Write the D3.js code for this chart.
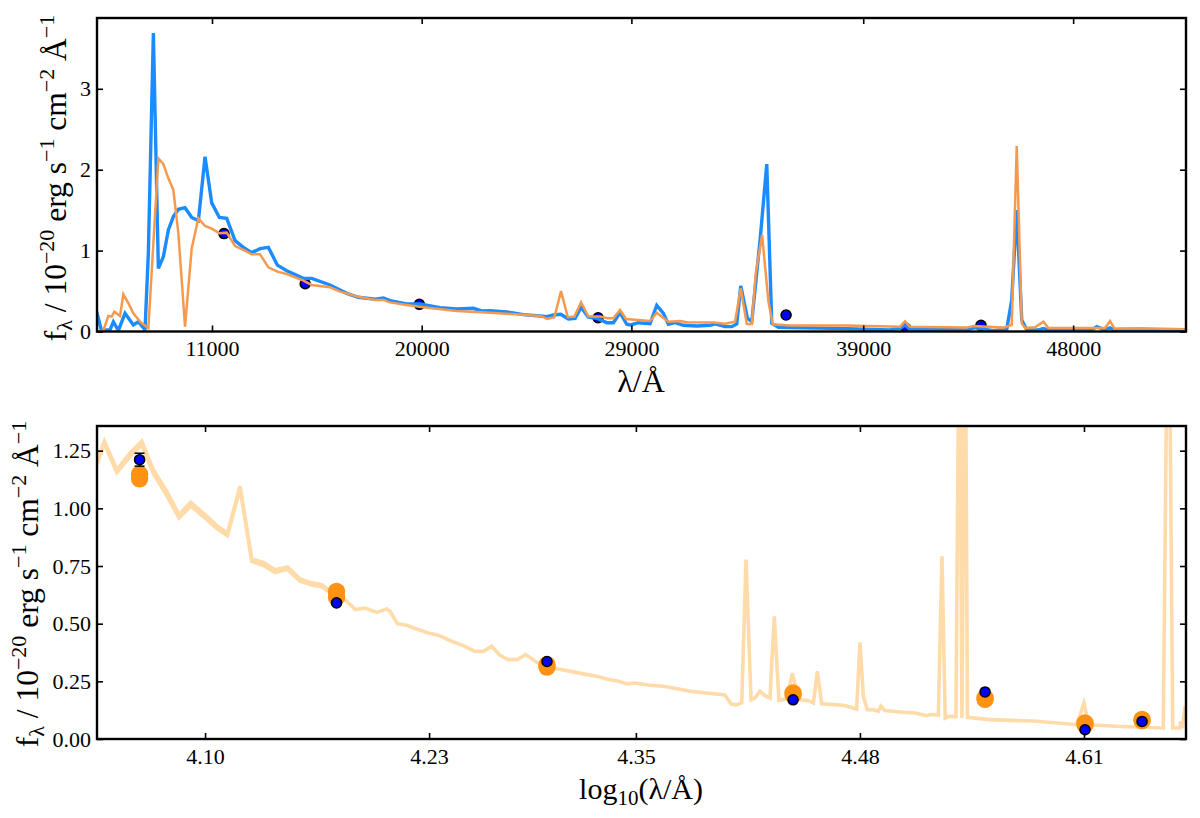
<!DOCTYPE html>
<html>
<head>
<meta charset="utf-8">
<script src="https://cdn.jsdelivr.net/npm/d3@7"></script>
<style>
  html, body { margin: 0; padding: 0; background: #fff; }
  text { font-family: "Liberation Serif", serif; fill: #000; }
</style>
</head>
<body>
<svg id="chart" width="1200" height="818"></svg>
<script>
// top panel, blue model: wavelength (A) and flux
var blueWave = [6050,6265,6480,6623,6766,6980,7267,7624,7839,8125,8268,8483,8698,8912,9127,9342,9556,9842,10129,10415,10701,10987,11316,11631,11989,12347,12704,13062,13420,13806,14207,14922,15280,16067,16783,17283,18000,18357,18643,19355,19928,20787,21502,22218,22575,22933,23792,24364,25080,25366,25652,25967,26296,26582,26840,27154,27512,27942,28228,28514,28800,28972,29301,29802,30088,30374,30589,30875,31233,31805,32378,32592,33022,33308,33522,33694,33980,34166,34524,34810,35025,35311,35808,38241,40101,40530,40745,40960,43392,43750,44537,45110,45324,45539,45754,45968,46469,46684,46898,48759,48973,49188,49331,49546,49760,52837];
var blueFlux = [0.245,0,0.02,0.02,0.12,0.01,0.225,0.08,0.12,0.02,0.97,3.69,0.78,0.925,1.255,1.42,1.51,1.53,1.41,1.37,2.16,1.59,1.41,1.40,1.123,1.04,0.975,1.024,1.04,0.82,0.75,0.657,0.657,0.575,0.472,0.423,0.398,0.414,0.381,0.34,0.34,0.295,0.279,0.287,0.254,0.258,0.237,0.209,0.192,0.184,0.204,0.213,0.155,0.163,0.299,0.176,0.163,0.109,0.109,0.233,0.089,0.081,0.109,0.097,0.324,0.225,0.089,0.109,0.077,0.068,0.077,0.093,0.06,0.06,0.093,0.563,0.163,0.122,1.131,2.07,0.101,0.052,0.048,0.036,0.02,0.04,0.08,0.027,0.02,0.048,0.011,0.027,0.39,1.5,0.143,0.02,0.02,0.036,0.02,0.02,0.06,0.036,0.02,0.044,0.011,0.011];

// top panel, orange model
var orangeWave = [6122,6336,6551,6694,6809,7052,7195,7410,7624,7911,8268,8483,8698,8912,9127,9342,9556,9842,10129,10415,10701,10987,11316,11631,11989,12347,12704,13062,13420,13806,14207,14922,15280,16067,16497,17283,18000,18357,18643,19355,20071,21502,22933,25080,25394,25695,25981,26268,26554,26840,27154,27655,27970,28228,28514,28771,29802,30088,30589,31090,31376,32521,33022,33451,33694,33952,34166,34337,34610,34882,35068,35808,38241,40530,40745,40960,43392,43679,44966,45324,45539,45754,45897,46326,46684,46898,48687,49331,49546,49732,50834,52837];
var orangeFlux = [0,0.01,0.192,0.184,0.245,0.192,0.46,0.35,0.225,0.122,0.04,1.09,2.14,2.07,1.893,1.749,1.214,0.06,1.028,1.399,1.304,1.271,1.214,1.222,1.057,1.008,0.954,0.954,0.793,0.74,0.711,0.629,0.575,0.546,0.493,0.43,0.39,0.39,0.36,0.328,0.299,0.254,0.233,0.192,0.155,0.176,0.501,0.176,0.184,0.361,0.184,0.184,0.163,0.163,0.266,0.155,0.13,0.233,0.122,0.13,0.114,0.11,0.097,0.122,0.534,0.093,0.093,0.719,1.193,0.369,0.089,0.073,0.073,0.06,0.126,0.06,0.048,0.069,0.048,0.081,2.293,0.102,0.044,0.052,0.122,0.044,0.044,0.044,0.13,0.036,0.04,0.027];

// bottom panel, model spectrum in log wavelength
var specLog = [4.0372,4.0416,4.0488,4.0565,4.0633,4.07,4.0778,4.0849,4.0917,4.1,4.1068,4.113,4.1203,4.1271,4.1339,4.1406,4.1478,4.1551,4.1619,4.1677,4.1755,4.1822,4.1871,4.1929,4.1996,4.2054,4.2073,4.2116,4.217,4.2228,4.2295,4.2353,4.2421,4.2508,4.2566,4.2615,4.2663,4.2711,4.276,4.2812,4.286,4.2924,4.2982,4.304,4.3137,4.3291,4.334,4.3388,4.345,4.3495,4.3582,4.366,4.3717,4.3814,4.4017,4.4052,4.4079,4.4114,4.4139,4.4168,4.4191,4.422,4.4249,4.4278,4.4303,4.433,4.4375,4.4408,4.4443,4.4501,4.453,4.4553,4.4578,4.4665,4.4713,4.4781,4.48,4.482,4.4843,4.4878,4.4907,4.4922,4.4945,4.5052,4.5119,4.519,4.521,4.5255,4.5276,4.5295,4.5313,4.5357,4.5377,4.5392,4.541,4.5424,4.5555,4.5826,4.6058,4.61,4.6126,4.629,4.656,4.659,4.6615,4.6657,4.6661,4.667,4.6687,4.6692];
var specFlux = [1.204,1.291,1.168,1.24,1.291,1.168,1.074,0.973,1.026,0.973,0.925,0.893,1.096,0.781,0.766,0.734,0.746,0.694,0.677,0.669,0.626,0.597,0.561,0.568,0.549,0.564,0.554,0.5,0.493,0.477,0.46,0.45,0.427,0.402,0.38,0.38,0.402,0.363,0.344,0.344,0.366,0.333,0.312,0.305,0.291,0.269,0.258,0.253,0.239,0.243,0.233,0.229,0.221,0.207,0.191,0.152,0.148,0.156,0.778,0.171,0.178,0.207,0.188,0.178,0.532,0.168,0.174,0.286,0.171,0.166,0.156,0.294,0.153,0.148,0.145,0.13,0.419,0.185,0.127,0.127,0.12,0.142,0.123,0.116,0.113,0.101,0.106,0.104,0.792,0.091,0.098,0.098,2.0,0.091,2.07,0.094,0.084,0.077,0.062,0.156,0.062,0.055,0.048,2.3,0.048,0.048,0.077,0.048,0.142,0.1];

// second model draw of the spectrum, only differs visibly at the blue end
var specLog2 = [4.0372,4.0416,4.0488,4.0565,4.0633,4.07,4.0778,4.0849,4.0917,4.1,4.1068,4.113,4.1203,4.1271,4.1339,4.1406,4.1478,4.1551,4.1619,4.1677,4.1755];
var specFlux2 = [1.19,1.28,1.155,1.225,1.275,1.15,1.055,0.958,1.01,0.958,0.912,0.882,1.086,0.77,0.752,0.722,0.736,0.684,0.668,0.66,0.618];

// photometry
var photWave = [11515,15000,19900,27570,35640,40785,44005];
var photLog = [4.062,4.1763,4.2984,4.4412,4.5526,4.6106,4.6437];
var photFlux = [1.211,0.59,0.336,0.17,0.204,0.04,0.076];
var photErr = [0.028,0.008,0.008,0.008,0.008,0.008,0.008];
var modelPhotHigh = [1.148,0.64,0.322,0.2,0.178,0.07,0.085];
var modelPhotLow = [1.128,0.615,0.312,0.192,0.172,0.062,0.08];

// the printed labels are rounded tick positions
var topXTicks = [11000,20000,29000,38950,47960];
var topYTicks = [0,1,2,3];
var bottomXTicks = [4.10,4.23,4.35,4.48,4.61];
var bottomYTicks = [0,0.25,0.5,0.75,1,1.25];

var blueLine = "#1a8cff";
var orangeLine = "#f5994f";
var paleLine = "#ffdba9";
var orangeDot = "#ff9213";

var svg = d3.select("#chart");
var left = 97, right = 1186;

var topX = d3.scaleLinear().domain([6064,52804]).range([left,right]);
var topY = d3.scaleLinear().domain([0,3.875]).range([331.5,18]);
var botX = d3.scaleLinear().domain([4.0373,4.6692]).range([left,right]);
var botY = d3.scaleLinear().domain([0,1.357]).range([739,426]);

function zip(a, b) {
    return a.map(function(v, i) { return [v, b[i]]; });
}

function drawAxes(g, x, y, xTicks, yTicks, xFormat, yFormat) {
    var x0 = x.range()[0], x1 = x.range()[1], y0 = y.range()[0], y1 = y.range()[1];
    var bottom = g.append("g").attr("transform", "translate(0," + y0 + ")")
        .call(d3.axisBottom(x).tickValues(xTicks).tickFormat(xFormat).tickSizeInner(-6).tickSizeOuter(0).tickPadding(9));
    var top = g.append("g").attr("transform", "translate(0," + y1 + ")")
        .call(d3.axisTop(x).tickValues(xTicks).tickFormat("").tickSizeInner(-6).tickSizeOuter(0));
    var lft = g.append("g").attr("transform", "translate(" + x0 + ",0)")
        .call(d3.axisLeft(y).tickValues(yTicks).tickFormat(yFormat).tickSizeInner(-6).tickSizeOuter(0).tickPadding(6));
    var rgt = g.append("g").attr("transform", "translate(" + x1 + ",0)")
        .call(d3.axisRight(y).tickValues(yTicks).tickFormat("").tickSizeInner(-6).tickSizeOuter(0));
    [bottom, top, lft, rgt].forEach(function(a) {
        a.selectAll(".domain").remove();
        a.selectAll("line").attr("stroke", "#000").attr("stroke-width", 1.6);
        a.selectAll("text").style("font-family", "'Liberation Serif', serif").style("font-size", "22px");
    });
    g.append("rect").attr("x", x0).attr("y", y1).attr("width", x1 - x0).attr("height", y0 - y1)
        .attr("fill", "none").attr("stroke", "#000").attr("stroke-width", 2.4);
}

// flux label with sub and superscripts, built from tspans
function fluxLabel(g, bx, cy) {
    var t = g.append("text")
        .attr("transform", "translate(" + bx + "," + cy + ") rotate(-90)")
        .attr("text-anchor", "middle")
        .style("font-size", "31.5px");
    var parts = [
        ["f", 0], ["\u03bb", 1], [" / 10", 0], ["\u221220", -1], [" erg s", 0], ["\u22121", -1],
        [" cm", 0], ["\u22122", -1], [" \u00c5", 0], ["\u22121", -1]
    ];
    var prev = 0;
    parts.forEach(function(p) {
        var shift = p[1] === 1 ? 6 : (p[1] === -1 ? -12 : 0);
        t.append("tspan").attr("dy", shift - prev)
            .style("font-size", p[1] === 0 ? "31.5px" : "22px")
            .text(p[0]);
        prev = shift;
    });
}

// top panel
svg.append("clipPath").attr("id", "clipTop").append("rect")
    .attr("x", left).attr("y", 18).attr("width", right - left).attr("height", 313.5);
svg.append("clipPath").attr("id", "clipBot").append("rect")
    .attr("x", left).attr("y", 426).attr("width", right - left).attr("height", 313);

var topG = svg.append("g");
var topPlot = topG.append("g").attr("clip-path", "url(#clipTop)");
var topLine = d3.line().x(function(d) { return topX(d[0]); }).y(function(d) { return topY(d[1]); });

topPlot.selectAll("circle").data(zip(photWave, photFlux)).enter().append("circle")
    .attr("cx", function(d) { return topX(d[0]); })
    .attr("cy", function(d) { return topY(d[1]); })
    .attr("r", 5).attr("fill", "#0000ff").attr("stroke", "#000").attr("stroke-width", 1.6);
topPlot.append("path").datum(zip(blueWave, blueFlux)).attr("d", topLine)
    .attr("fill", "none").attr("stroke", blueLine).attr("stroke-width", 3.4);
topPlot.append("path").datum(zip(orangeWave, orangeFlux)).attr("d", topLine)
    .attr("fill", "none").attr("stroke", orangeLine).attr("stroke-width", 2.5);

drawAxes(topG, topX, topY, topXTicks, topYTicks,
    function(d) { return d3.format("d")(Math.round(d / 1000) * 1000); }, d3.format("d"));
fluxLabel(topG, 66, 178);
topG.append("text").attr("x", 641).attr("y", 391.5).attr("text-anchor", "middle")
    .style("font-size", "32px").text("\u03bb/\u00c5");

// bottom panel
var botG = svg.append("g");
var botPlot = botG.append("g").attr("clip-path", "url(#clipBot)");
var botLine = d3.line().x(function(d) { return botX(d[0]); }).y(function(d) { return botY(d[1]); });

botPlot.append("path").datum(zip(specLog2, specFlux2)).attr("d", botLine)
    .attr("fill", "none").attr("stroke", paleLine).attr("stroke-width", 3.6);
botPlot.append("path").datum(zip(specLog, specFlux)).attr("d", botLine)
    .attr("fill", "none").attr("stroke", paleLine).attr("stroke-width", 3.6);

[modelPhotHigh, modelPhotLow].forEach(function(vals) {
    botPlot.append("g").selectAll("circle").data(zip(photLog, vals)).enter().append("circle")
        .attr("cx", function(d) { return botX(d[0]); })
        .attr("cy", function(d) { return botY(d[1]); })
        .attr("r", 8.7).attr("fill", orangeDot);
});

// error bars with caps behind the observed points
var errs = botPlot.append("g").selectAll("g").data(photLog.map(function(v, i) {
    return { x: v, y: photFlux[i], e: photErr[i] };
})).enter().append("g").attr("stroke", "#000").attr("stroke-width", 1.5);
errs.append("line")
    .attr("x1", function(d) { return botX(d.x); }).attr("x2", function(d) { return botX(d.x); })
    .attr("y1", function(d) { return botY(d.y - d.e); }).attr("y2", function(d) { return botY(d.y + d.e); });
[-1, 1].forEach(function(s) {
    errs.append("line")
        .attr("x1", function(d) { return botX(d.x) - 5; }).attr("x2", function(d) { return botX(d.x) + 5; })
        .attr("y1", function(d) { return botY(d.y + s * d.e); }).attr("y2", function(d) { return botY(d.y + s * d.e); });
});

botPlot.append("g").selectAll("circle").data(zip(photLog, photFlux)).enter().append("circle")
    .attr("cx", function(d) { return botX(d[0]); })
    .attr("cy", function(d) { return botY(d[1]); })
    .attr("r", 5).attr("fill", "#0000ff").attr("stroke", "#000").attr("stroke-width", 1.6);

drawAxes(botG, botX, botY, bottomXTicks, bottomYTicks, d3.format(".2f"), d3.format(".2f"));
fluxLabel(botG, 38, 584);
var xl = botG.append("text").attr("x", 641).attr("y", 799).attr("text-anchor", "middle").style("font-size", "30px");
xl.append("tspan").text("log");
xl.append("tspan").attr("dy", 6).style("font-size", "21px").text("10");
xl.append("tspan").attr("dy", -6).text("(\u03bb/\u00c5)");
</script>
</body>
</html>
